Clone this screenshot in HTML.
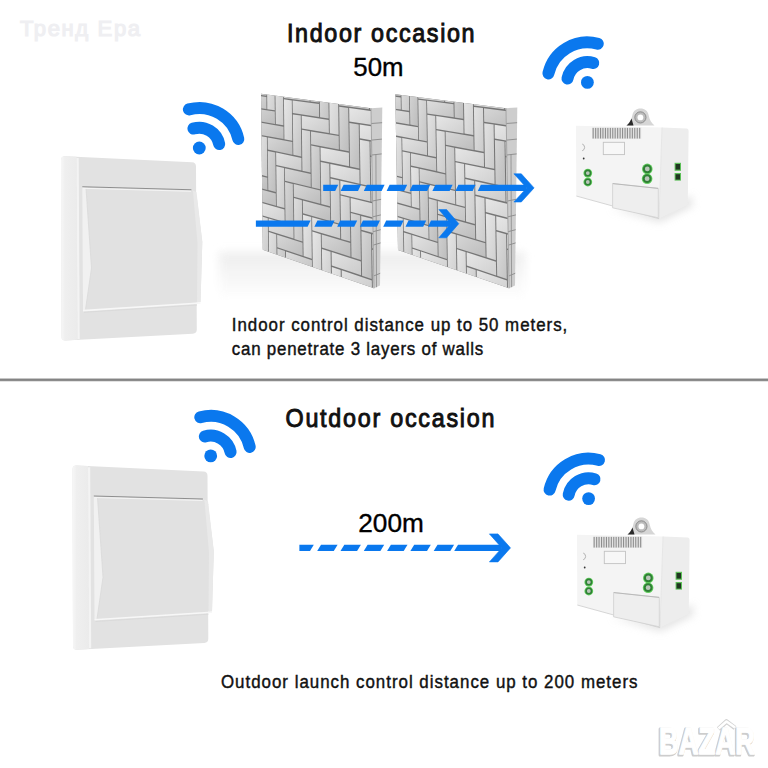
<!DOCTYPE html>
<html><head><meta charset="utf-8"><style>html,body{margin:0;padding:0;background:#fff;width:768px;height:768px;overflow:hidden}svg{display:block}</style></head>
<body><svg width="768" height="768" viewBox="0 0 768 768">
<rect width="768" height="768" fill="#ffffff"/>
<defs><filter id="blur4" x="-50%" y="-50%" width="200%" height="200%"><feGaussianBlur stdDeviation="4"/></filter><filter id="blur8" x="-50%" y="-50%" width="200%" height="200%"><feGaussianBlur stdDeviation="8"/></filter><linearGradient id="bA" x1="0" y1="0" x2="1" y2="1"><stop offset="0" stop-color="#e2e2e2"/><stop offset="1" stop-color="#cbcbcb"/></linearGradient><linearGradient id="bB" x1="0" y1="0" x2="1" y2="1"><stop offset="0" stop-color="#dddddd"/><stop offset="1" stop-color="#c4c4c4"/></linearGradient><linearGradient id="bC" x1="0" y1="0" x2="1" y2="1"><stop offset="0" stop-color="#e6e6e6"/><stop offset="1" stop-color="#d0d0d0"/></linearGradient><linearGradient id="bD" x1="0" y1="0" x2="1" y2="1"><stop offset="0" stop-color="#d6d6d6"/><stop offset="1" stop-color="#bdbdbd"/></linearGradient><linearGradient id="swside" x1="0" y1="0" x2="1" y2="0"><stop offset="0" stop-color="#f7f7f7"/><stop offset="0.25" stop-color="#efefef"/><stop offset="1" stop-color="#ebebeb"/></linearGradient><linearGradient id="floor" x1="0" y1="0" x2="0" y2="1"><stop offset="0" stop-color="#ececec"/><stop offset="1" stop-color="#ffffff"/></linearGradient></defs>
<polygon points="219,252 525,252 525,300 219,300" fill="url(#floor)" filter="url(#blur4)" opacity="0.9"/>
<text transform="translate(20,36.4) scale(1.0,1)" x="0" y="0" font-family='"Liberation Sans", sans-serif' font-size="22" fill="#efeff2" stroke="#efeff2" stroke-width="1.2" textLength="120" lengthAdjust="spacing">Тренд Ера</text>
<text transform="translate(287,42) scale(0.88,1)" x="0" y="0" font-family='"Liberation Sans", sans-serif' font-size="26.5" fill="#111" stroke="#111" stroke-width="1.0" textLength="213.1" lengthAdjust="spacing">Indoor occasion</text>
<text x="353.3" y="76" font-family='"Liberation Sans", sans-serif' font-size="25.8" fill="#000" stroke="#000" stroke-width="0.35">50m</text>
<text transform="translate(231.8,331.3) scale(0.88,1)" x="0" y="0" font-family='"Liberation Sans", sans-serif' font-size="19.2" fill="#111" stroke="#111" stroke-width="0.45" textLength="381.2" lengthAdjust="spacing">Indoor control distance up to 50 meters,</text>
<text transform="translate(231.8,355.4) scale(0.88,1)" x="0" y="0" font-family='"Liberation Sans", sans-serif' font-size="19.2" fill="#111" stroke="#111" stroke-width="0.45" textLength="285.8" lengthAdjust="spacing">can penetrate 3 layers of walls</text>
<rect x="0" y="378.2" width="768" height="3.4" fill="#cfcfcf"/><rect x="0" y="378.8" width="768" height="2.1" fill="#848484"/>
<text transform="translate(285.5,427) scale(0.88,1)" x="0" y="0" font-family='"Liberation Sans", sans-serif' font-size="26.5" fill="#111" stroke="#111" stroke-width="1.0" textLength="237.5" lengthAdjust="spacing">Outdoor occasion</text>
<text x="358.3" y="531.5" font-family='"Liberation Sans", sans-serif' font-size="26.2" fill="#000" stroke="#000" stroke-width="0.35">200m</text>
<text transform="translate(221,687.6) scale(0.88,1)" x="0" y="0" font-family='"Liberation Sans", sans-serif' font-size="19.2" fill="#111" stroke="#111" stroke-width="0.45" textLength="473.3" lengthAdjust="spacing">Outdoor launch control distance up to 200 meters</text>
<clipPath id="w1"><polygon points="261,93.8 371,108.2 374,288.3 262.8,249.8"/></clipPath>
<polygon points="261,93.8 371,108.2 374,288.3 262.8,249.8" fill="#767676"/>
<g clip-path="url(#w1)">
<polygon points="258.6,56.3 265.9,56.8 266.4,95.7 259.1,94.7" fill="url(#bB)"/>
<polygon points="243.4,93.9 266.4,97 266.5,109.1 243.5,105.6" fill="url(#bB)"/>
<polygon points="266.9,70.3 274.3,71 274.8,110.3 267.3,109.2" fill="url(#bC)"/>
<polygon points="251.3,108 274.8,111.6 275,123.9 251.4,119.9" fill="url(#bD)"/>
<polygon points="275.3,84.6 282.9,85.5 283.4,125.3 275.8,124" fill="url(#bA)"/>
<polygon points="259.5,135.9 266.9,137.2 267.3,176.4 260,174.6" fill="url(#bA)"/>
<polygon points="259.4,122.6 283.5,126.7 283.6,139.1 259.5,134.6" fill="url(#bD)"/>
<polygon points="283.9,99.3 291.8,100.4 292.3,140.7 284.4,139.2" fill="url(#bC)"/>
<polygon points="283.8,85.6 309.5,88.6 309.7,101.4 283.9,98" fill="url(#bB)"/>
<polygon points="310,60.3 318.3,61 318.9,102.6 310.5,101.5" fill="url(#bB)"/>
<polygon points="244.3,172 267.3,177.7 267.5,189.9 244.4,183.8" fill="url(#bD)"/>
<polygon points="267.8,150.9 275.3,152.4 275.8,192.1 268.3,190.1" fill="url(#bD)"/>
<polygon points="267.7,137.4 292.3,142.1 292.5,154.7 267.8,149.6" fill="url(#bD)"/>
<polygon points="292.8,114.4 300.8,115.6 301.3,156.5 293.3,154.8" fill="url(#bB)"/>
<polygon points="292.6,100.5 319,104 319.1,117 292.8,113" fill="url(#bB)"/>
<polygon points="319.5,75.4 328,76.2 328.7,118.5 320.1,117.2" fill="url(#bB)"/>
<polygon points="252.2,187.2 275.8,193.4 276,205.7 252.3,199.1" fill="url(#bD)"/>
<polygon points="276.3,166.2 284,168 284.5,208.1 276.8,206" fill="url(#bA)"/>
<polygon points="276.1,152.6 301.4,157.9 301.5,170.6 276.3,164.9" fill="url(#bA)"/>
<polygon points="301.9,129.8 310.1,131.2 310.6,172.6 302.4,170.8" fill="url(#bB)"/>
<polygon points="301.7,115.7 328.7,119.9 328.9,133 301.8,128.5" fill="url(#bA)"/>
<polygon points="329.2,90.9 338,91.9 338.6,134.7 329.8,133.2" fill="url(#bC)"/>
<polygon points="260.5,216.1 267.8,218.3 268.3,257.7 260.9,255.1" fill="url(#bA)"/>
<polygon points="260.3,202.6 284.5,209.5 284.7,222 260.4,214.8" fill="url(#bC)"/>
<polygon points="285,182 292.8,183.9 293.4,224.6 285.5,222.2" fill="url(#bD)"/>
<polygon points="284.8,168.2 310.7,174 310.8,187 285,180.7" fill="url(#bD)"/>
<polygon points="311.2,145.6 319.6,147.2 320.2,189.2 311.7,187.2" fill="url(#bD)"/>
<polygon points="311,131.4 338.7,136.1 338.9,149.5 311.1,144.3" fill="url(#bD)"/>
<polygon points="339.2,106.7 348.2,108 348.9,151.3 339.8,149.6" fill="url(#bD)"/>
<polygon points="338.9,92 368.7,95.4 368.9,109.3 339.1,105.3" fill="url(#bB)"/>
<polygon points="369.2,65 378.9,65.8 379.7,110.7 370,109.4" fill="url(#bC)"/>
<polygon points="268.8,232.1 276.3,234.5 276.8,274.4 269.2,271.6" fill="url(#bA)"/>
<polygon points="268.6,218.5 293.4,225.9 293.6,238.6 268.8,230.8" fill="url(#bA)"/>
<polygon points="293.9,198.1 301.9,200.3 302.5,241.5 294.4,238.9" fill="url(#bB)"/>
<polygon points="293.7,184.1 320.2,190.6 320.4,203.7 293.9,196.8" fill="url(#bD)"/>
<polygon points="320.7,161.9 329.3,163.7 330,206.2 321.3,204" fill="url(#bB)"/>
<polygon points="320.5,147.4 348.9,152.8 349.1,166.3 320.7,160.5" fill="url(#bC)"/>
<polygon points="349.4,123 358.7,124.4 359.4,168.5 350.1,166.5" fill="url(#bD)"/>
<polygon points="349.2,108.1 379.7,112.2 380,126.2 349.4,121.6" fill="url(#bC)"/>
<polygon points="277.3,248.5 285,251.1 285.5,291.6 277.8,288.5" fill="url(#bD)"/>
<polygon points="277.1,234.7 302.5,242.8 302.7,255.7 277.3,247.2" fill="url(#bD)"/>
<polygon points="303,214.7 311.3,217 311.8,258.8 303.6,256" fill="url(#bC)"/>
<polygon points="302.8,200.5 330,207.7 330.2,220.9 303,213.3" fill="url(#bD)"/>
<polygon points="330.5,178.5 339.3,180.5 340,223.7 331.1,221.2" fill="url(#bB)"/>
<polygon points="330.3,163.9 359.4,169.9 359.6,183.7 330.5,177.1" fill="url(#bC)"/>
<polygon points="359.9,139.8 369.5,141.4 370.2,186 360.6,183.9" fill="url(#bA)"/>
<polygon points="359.7,124.6 391.1,129.4 391.3,143.6 359.9,138.3" fill="url(#bC)"/>
<polygon points="285.9,251.4 311.9,260.2 312,273.2 286,264" fill="url(#bB)"/>
<polygon points="312.3,231.6 320.8,234.2 321.4,276.5 312.9,273.5" fill="url(#bC)"/>
<polygon points="312.1,217.3 340,225.1 340.2,238.6 312.3,230.3" fill="url(#bA)"/>
<polygon points="340.5,195.6 349.6,197.8 350.3,241.6 341.2,238.9" fill="url(#bB)"/>
<polygon points="340.3,180.7 370.2,187.5 370.5,201.5 340.5,194.2" fill="url(#bC)"/>
<polygon points="370.7,156.9 380.5,158.8 381.3,204.1 371.5,201.7" fill="url(#bC)"/>
<polygon points="370.5,141.6 402.7,147.1 403,161.5 370.7,155.5" fill="url(#bA)"/>
<polygon points="321.9,249 330.6,251.8 331.3,294.7 322.5,291.5" fill="url(#bA)"/>
<polygon points="321.7,234.5 350.3,243.1 350.5,256.7 321.9,247.6" fill="url(#bD)"/>
<polygon points="350.8,213.1 360.2,215.6 360.9,260 351.5,257" fill="url(#bD)"/>
<polygon points="350.6,198.1 381.3,205.6 381.6,219.7 350.8,211.7" fill="url(#bA)"/>
<polygon points="331.8,266.9 340.7,269.9 341.3,313.4 332.4,309.9" fill="url(#bC)"/>
<polygon points="331.6,252.1 360.9,261.5 361.1,275.3 331.8,265.5" fill="url(#bA)"/>
<polygon points="361.4,231.2 371,233.9 371.7,278.9 362.1,275.7" fill="url(#bD)"/>
<polygon points="361.2,215.9 392.7,224.2 393,238.5 361.4,229.7" fill="url(#bB)"/>
<polygon points="341.7,270.2 371.8,280.4 372,294.4 341.9,283.8" fill="url(#bA)"/>
<polygon points="372.3,249.7 382.1,252.6 382.9,298.3 373,294.8" fill="url(#bC)"/>
<polygon points="372,234.2 404.5,243.3 404.7,257.9 372.3,248.2" fill="url(#bD)"/>
</g>
<polygon points="371,108.2 382.3,107.6 380,285.6 374,288.3" fill="#cdcdcd"/>
<line x1="371.3" y1="123.5" x2="382.1" y2="122.7" stroke="#8a8a8a" stroke-width="0.9"/>
<line x1="371.5" y1="140.1" x2="381.9" y2="139.1" stroke="#8a8a8a" stroke-width="0.9"/>
<line x1="371.8" y1="155" x2="381.7" y2="153.9" stroke="#8a8a8a" stroke-width="0.9"/>
<line x1="372.5" y1="201" x2="381.1" y2="199.3" stroke="#8a8a8a" stroke-width="0.9"/>
<line x1="372.8" y1="216.8" x2="380.9" y2="214.9" stroke="#8a8a8a" stroke-width="0.9"/>
<line x1="373.1" y1="231.7" x2="380.7" y2="229.7" stroke="#8a8a8a" stroke-width="0.9"/>
<line x1="373.3" y1="245.1" x2="380.6" y2="242.9" stroke="#8a8a8a" stroke-width="0.9"/>
<line x1="373.8" y1="275.9" x2="380.2" y2="273.3" stroke="#8a8a8a" stroke-width="0.9"/>
<line x1="371" y1="108.2" x2="374" y2="288.3" stroke="#9a9a9a" stroke-width="0.8"/>
<line x1="375.9" y1="154.5" x2="376.5" y2="287.2" stroke="#8a8a8a" stroke-width="0.8"/>
<clipPath id="w2"><polygon points="395.3,94.3 506,108.2 509.1,288.3 398,250"/></clipPath>
<polygon points="395.3,94.3 506,108.2 509.1,288.3 398,250" fill="#767676"/>
<g clip-path="url(#w2)">
<polygon points="392.7,56.5 400,57 400.7,96.1 393.4,95.2" fill="url(#bD)"/>
<polygon points="377.7,94.5 400.7,97.5 400.9,109.6 377.9,106.3" fill="url(#bA)"/>
<polygon points="401,70.6 408.5,71.3 409.2,110.8 401.7,109.7" fill="url(#bA)"/>
<polygon points="385.7,108.7 409.2,112.2 409.5,124.5 385.9,120.6" fill="url(#bA)"/>
<polygon points="409.6,85 417.3,85.8 417.9,125.9 410.3,124.6" fill="url(#bD)"/>
<polygon points="394.1,136.5 401.4,137.9 402.1,177 394.8,175.2" fill="url(#bC)"/>
<polygon points="393.9,123.2 418,127.2 418.2,139.7 394.1,135.2" fill="url(#bC)"/>
<polygon points="418.3,99.7 426.2,100.7 426.9,141.3 419,139.8" fill="url(#bB)"/>
<polygon points="418.1,85.9 443.9,88.8 444.2,101.7 418.3,98.4" fill="url(#bA)"/>
<polygon points="444.3,60.2 452.8,60.8 453.5,102.9 445.1,101.8" fill="url(#bC)"/>
<polygon points="379.1,172.7 402.1,178.3 402.3,190.5 379.3,184.5" fill="url(#bA)"/>
<polygon points="402.4,151.5 410,153 410.6,192.6 403.1,190.7" fill="url(#bA)"/>
<polygon points="402.2,138 426.9,142.6 427.1,155.2 402.4,150.2" fill="url(#bA)"/>
<polygon points="427.3,114.8 435.3,116 436,157 428,155.4" fill="url(#bA)"/>
<polygon points="427,100.8 453.5,104.3 453.8,117.3 427.3,113.5" fill="url(#bB)"/>
<polygon points="453.9,75.4 462.6,76.2 463.3,118.7 454.7,117.5" fill="url(#bD)"/>
<polygon points="387.1,187.8 410.7,193.9 410.9,206.2 387.3,199.7" fill="url(#bC)"/>
<polygon points="411,166.9 418.7,168.6 419.4,208.6 411.7,206.5" fill="url(#bC)"/>
<polygon points="410.8,153.2 436.1,158.4 436.3,171.1 411,165.5" fill="url(#bB)"/>
<polygon points="436.4,130.3 444.7,131.7 445.4,173.2 437.2,171.3" fill="url(#bA)"/>
<polygon points="436.2,116.1 463.4,120.2 463.6,133.4 436.4,128.9" fill="url(#bC)"/>
<polygon points="463.8,91 472.7,91.9 473.4,135 464.5,133.6" fill="url(#bC)"/>
<polygon points="395.5,216.5 402.8,218.7 403.5,257.8 396.1,255.2" fill="url(#bC)"/>
<polygon points="395.2,203.2 419.4,209.9 419.6,222.4 395.5,215.2" fill="url(#bB)"/>
<polygon points="419.8,182.6 427.6,184.5 428.3,225 420.5,222.6" fill="url(#bD)"/>
<polygon points="419.5,168.8 445.4,174.5 445.7,187.5 419.7,181.2" fill="url(#bD)"/>
<polygon points="445.8,146.1 454.3,147.7 455,189.7 446.5,187.7" fill="url(#bD)"/>
<polygon points="445.6,131.8 473.4,136.5 473.7,149.9 445.8,144.7" fill="url(#bD)"/>
<polygon points="473.9,106.9 483,108.1 483.7,151.7 474.6,150" fill="url(#bA)"/>
<polygon points="473.6,92 503.7,95.3 503.9,109.3 473.9,105.5" fill="url(#bC)"/>
<polygon points="504.2,64.6 514,65.3 514.8,110.7 504.9,109.4" fill="url(#bD)"/>
<polygon points="403.9,232.4 411.4,234.8 412.1,274.4 404.5,271.6" fill="url(#bB)"/>
<polygon points="403.6,218.9 428.4,226.3 428.6,238.9 403.8,231.1" fill="url(#bC)"/>
<polygon points="428.7,198.6 436.8,200.8 437.5,241.7 429.4,239.2" fill="url(#bD)"/>
<polygon points="428.5,184.7 455,191.1 455.3,204.2 428.7,197.3" fill="url(#bC)"/>
<polygon points="455.5,162.3 464.1,164.1 464.9,206.7 456.2,204.4" fill="url(#bC)"/>
<polygon points="455.2,147.9 483.8,153.2 484,166.7 455.4,160.9" fill="url(#bC)"/>
<polygon points="484.2,123.2 493.6,124.6 494.3,168.8 485,166.9" fill="url(#bA)"/>
<polygon points="484,108.2 514.8,112.2 515.1,126.3 484.2,121.8" fill="url(#bD)"/>
<polygon points="412.4,248.7 420.1,251.3 420.8,291.3 413.1,288.3" fill="url(#bC)"/>
<polygon points="412.2,235.1 437.5,243.1 437.7,255.9 412.4,247.4" fill="url(#bA)"/>
<polygon points="437.9,215.1 446.2,217.4 446.9,258.9 438.6,256.2" fill="url(#bD)"/>
<polygon points="437.7,201 464.9,208.1 465.1,221.3 437.9,213.7" fill="url(#bB)"/>
<polygon points="465.3,179 474.2,181 474.9,224.1 466,221.6" fill="url(#bA)"/>
<polygon points="465.1,164.3 494.4,170.3 494.6,184.1 465.3,177.6" fill="url(#bC)"/>
<polygon points="494.9,140 504.5,141.6 505.2,186.4 495.6,184.3" fill="url(#bD)"/>
<polygon points="494.6,124.8 526.3,129.5 526.5,143.8 494.8,138.6" fill="url(#bC)"/>
<polygon points="421,251.6 446.9,260.3 447.1,273.2 421.2,264.1" fill="url(#bC)"/>
<polygon points="447.3,232 455.8,234.5 456.5,276.5 448,273.5" fill="url(#bC)"/>
<polygon points="447.1,217.7 475,225.5 475.2,238.9 447.3,230.6" fill="url(#bD)"/>
<polygon points="475.4,196 484.5,198.3 485.3,241.9 476.2,239.2" fill="url(#bA)"/>
<polygon points="475.2,181.2 505.3,187.9 505.5,201.8 475.4,194.6" fill="url(#bA)"/>
<polygon points="505.8,157.2 515.6,159.1 516.4,204.5 506.5,202.1" fill="url(#bA)"/>
<polygon points="505.5,141.8 538,147.2 538.3,161.7 505.7,155.8" fill="url(#bC)"/>
<polygon points="457,249.3 465.6,252 466.4,294.6 457.7,291.3" fill="url(#bC)"/>
<polygon points="456.7,234.8 485.3,243.3 485.6,256.9 456.9,247.9" fill="url(#bD)"/>
<polygon points="485.8,213.5 495.2,216 495.9,260.2 486.6,257.2" fill="url(#bC)"/>
<polygon points="485.5,198.5 516.4,206 516.7,220.1 485.8,212.1" fill="url(#bC)"/>
<polygon points="466.8,267 475.7,270 476.5,313.1 467.6,309.6" fill="url(#bB)"/>
<polygon points="466.6,252.3 495.9,261.7 496.2,275.4 466.8,265.6" fill="url(#bC)"/>
<polygon points="496.4,231.5 506.1,234.2 506.8,279 497.2,275.7" fill="url(#bB)"/>
<polygon points="496.2,216.2 527.9,224.5 528.2,238.8 496.4,230" fill="url(#bC)"/>
<polygon points="476.7,270.3 506.9,280.5 507.1,294.4 476.9,283.7" fill="url(#bC)"/>
<polygon points="507.4,249.9 517.2,252.9 518,298.2 508.1,294.8" fill="url(#bC)"/>
<polygon points="507.1,234.5 539.7,243.6 539.9,258.1 507.3,248.4" fill="url(#bC)"/>
</g>
<polygon points="506,108.2 517.3,107.6 515,285.6 509.1,288.3" fill="#cdcdcd"/>
<line x1="506.3" y1="123.5" x2="517.1" y2="122.7" stroke="#8a8a8a" stroke-width="0.9"/>
<line x1="506.5" y1="140.1" x2="516.9" y2="139.1" stroke="#8a8a8a" stroke-width="0.9"/>
<line x1="506.8" y1="155" x2="516.7" y2="153.9" stroke="#8a8a8a" stroke-width="0.9"/>
<line x1="507.6" y1="201" x2="516.1" y2="199.3" stroke="#8a8a8a" stroke-width="0.9"/>
<line x1="507.9" y1="216.8" x2="515.9" y2="214.9" stroke="#8a8a8a" stroke-width="0.9"/>
<line x1="508.1" y1="231.7" x2="515.7" y2="229.7" stroke="#8a8a8a" stroke-width="0.9"/>
<line x1="508.4" y1="245.1" x2="515.6" y2="242.9" stroke="#8a8a8a" stroke-width="0.9"/>
<line x1="508.9" y1="275.9" x2="515.2" y2="273.3" stroke="#8a8a8a" stroke-width="0.9"/>
<line x1="506" y1="108.2" x2="509.1" y2="288.3" stroke="#9a9a9a" stroke-width="0.8"/>
<line x1="511" y1="154.5" x2="511.6" y2="287.2" stroke="#8a8a8a" stroke-width="0.8"/>
<path d="M65,156.2 L192,162.3 Q196,162.5 196,166.5 L196.8,329.5 Q196.8,333.5 192.8,333.7 L65.5,340.5 Q61.5,340.7 61.5,336.7 L61,160.2 Q61,156 65,156.2 Z" fill="#e2e2e2"/>
<path d="M65,156.2 L76.5,156.8 L77.5,339.8 L65.5,340.5 Q61.5,340.7 61.5,336.7 L61,160.2 Q61,156 65,156.2 Z" fill="url(#swside)"/>
<line x1="77.6" y1="158" x2="78.6" y2="339" stroke="#f3f3f3" stroke-width="2.2"/>
<polygon points="82.3,187 191.4,190 196.5,195 202.3,242 200.5,302 83,310" fill="#e1e1e1"/>
<polygon points="191.4,190 196.5,192 202.3,242 200.5,302 197,302.5 197.5,243 193,191.5" fill="#e9e9e9"/>
<polygon points="82.3,187 86,188 91.5,268 85.5,309.8 83,310" fill="#f1f1f1"/>
<polyline points="86,188.2 91.5,268 85.5,309.6" fill="none" stroke="#d9d9d9" stroke-width="0.8"/>
<line x1="82.3" y1="186.8" x2="191.4" y2="189.8" stroke="#8e8e8e" stroke-width="1.1"/>
<line x1="83" y1="188.3" x2="191" y2="191.3" stroke="#f5f5f5" stroke-width="1"/>
<line x1="83" y1="310.6" x2="200.5" y2="303" stroke="#f7f7f7" stroke-width="1.6"/>
<line x1="84" y1="312.3" x2="197" y2="305" stroke="#d8d8d8" stroke-width="0.8"/>
<g transform="translate(11.5,309.2)"><path d="M65,156.2 L192,162.3 Q196,162.5 196,166.5 L196.8,329.5 Q196.8,333.5 192.8,333.7 L65.5,340.5 Q61.5,340.7 61.5,336.7 L61,160.2 Q61,156 65,156.2 Z" fill="#e2e2e2"/>
<path d="M65,156.2 L76.5,156.8 L77.5,339.8 L65.5,340.5 Q61.5,340.7 61.5,336.7 L61,160.2 Q61,156 65,156.2 Z" fill="url(#swside)"/>
<line x1="77.6" y1="158" x2="78.6" y2="339" stroke="#f3f3f3" stroke-width="2.2"/>
<polygon points="82.3,187 191.4,190 196.5,195 202.3,242 200.5,302 83,310" fill="#e1e1e1"/>
<polygon points="191.4,190 196.5,192 202.3,242 200.5,302 197,302.5 197.5,243 193,191.5" fill="#e9e9e9"/>
<polygon points="82.3,187 86,188 91.5,268 85.5,309.8 83,310" fill="#f1f1f1"/>
<polyline points="86,188.2 91.5,268 85.5,309.6" fill="none" stroke="#d9d9d9" stroke-width="0.8"/>
<line x1="82.3" y1="186.8" x2="191.4" y2="189.8" stroke="#8e8e8e" stroke-width="1.1"/>
<line x1="83" y1="188.3" x2="191" y2="191.3" stroke="#f5f5f5" stroke-width="1"/>
<line x1="83" y1="310.6" x2="200.5" y2="303" stroke="#f7f7f7" stroke-width="1.6"/>
<line x1="84" y1="312.3" x2="197" y2="305" stroke="#d8d8d8" stroke-width="0.8"/></g>
<path d="M188.9 109.4A40 40 0 0 1 238.3 139" fill="none" stroke="#0a78ee" stroke-width="12" stroke-linecap="round"/>
<path d="M193.4 128.6A20.3 20.3 0 0 1 219.2 144.1" fill="none" stroke="#0a78ee" stroke-width="12" stroke-linecap="round"/>
<circle cx="199.3" cy="148" r="6.4" fill="#0a78ee"/>
<path d="M200.3 417.3A40 40 0 0 1 249.7 446.9" fill="none" stroke="#0a78ee" stroke-width="12" stroke-linecap="round"/>
<path d="M204.8 436.5A20.3 20.3 0 0 1 230.6 452" fill="none" stroke="#0a78ee" stroke-width="12" stroke-linecap="round"/>
<circle cx="210.7" cy="455.9" r="6.4" fill="#0a78ee"/>
<path d="M548.4 73.4A40 40 0 0 1 597.8 43.8" fill="none" stroke="#0a78ee" stroke-width="12" stroke-linecap="round"/>
<path d="M567.5 78.5A20.3 20.3 0 0 1 593.3 63" fill="none" stroke="#0a78ee" stroke-width="12" stroke-linecap="round"/>
<circle cx="587.4" cy="82.4" r="6.4" fill="#0a78ee"/>
<path d="M549.6 489.6A40 40 0 0 1 599 460" fill="none" stroke="#0a78ee" stroke-width="12" stroke-linecap="round"/>
<path d="M568.7 494.7A20.3 20.3 0 0 1 594.5 479.2" fill="none" stroke="#0a78ee" stroke-width="12" stroke-linecap="round"/>
<circle cx="588.6" cy="498.6" r="6.4" fill="#0a78ee"/>
<polygon points="610,208 660,222 692,206 692,196 650,210" fill="#d6d6d6" filter="url(#blur4)" opacity="0.7"/>
<path d="M626.5,125.5 C629.5,123 631.5,120 632.3,115.5 C633.3,110.5 636.3,108.5 640.5,108.5 C644.7,108.5 647.7,110.5 648.7,115.5 C649.5,120 651.5,123 654.5,125.5 Z" fill="#d6d6d6"/>
<path d="M626.5,125.5 C629,123.5 630.5,121 631.5,118.5 L633.5,125.5 Z" fill="#2a2a2a"/>
<circle cx="640.4" cy="117.4" r="5.6" fill="#bcbcbc" stroke="#858585" stroke-width="0.9"/>
<circle cx="640.4" cy="117.4" r="2.9" fill="#ffffff"/>
<path d="M662,127.5 L686.5,128.5 C688,128.7 688.6,129.5 688.6,131 L687.8,203.5 C687.8,204.5 687.3,205 686.6,205.4 L659,218.5 Z" fill="#ededed"/>
<polygon points="576,125.8 662,127.5 659,218.5 576.3,195.8" fill="#f4f4f4"/>
<line x1="662" y1="127.5" x2="659" y2="218.5" stroke="#e2e2e2" stroke-width="0.8"/>
<line x1="576.3" y1="196" x2="659" y2="218.7" stroke="#d0d0d0" stroke-width="0.9"/>
<rect x="592.2" y="127.6" width="49" height="11.2" fill="#e4e4e4"/>
<rect x="592.6" y="127.9" width="1.1" height="10.6" fill="#8e8e8e"/>
<rect x="595.1" y="127.9" width="1.1" height="10.6" fill="#8e8e8e"/>
<rect x="597.5" y="127.9" width="1.1" height="10.6" fill="#8e8e8e"/>
<rect x="600" y="127.9" width="1.1" height="10.6" fill="#8e8e8e"/>
<rect x="602.4" y="127.9" width="1.1" height="10.6" fill="#8e8e8e"/>
<rect x="604.9" y="127.9" width="1.1" height="10.6" fill="#8e8e8e"/>
<rect x="607.3" y="127.9" width="1.1" height="10.6" fill="#8e8e8e"/>
<rect x="609.8" y="127.9" width="1.1" height="10.6" fill="#8e8e8e"/>
<rect x="612.2" y="127.9" width="1.1" height="10.6" fill="#8e8e8e"/>
<rect x="614.6" y="127.9" width="1.1" height="10.6" fill="#8e8e8e"/>
<rect x="617.1" y="127.9" width="1.1" height="10.6" fill="#8e8e8e"/>
<rect x="619.6" y="127.9" width="1.1" height="10.6" fill="#8e8e8e"/>
<rect x="622" y="127.9" width="1.1" height="10.6" fill="#8e8e8e"/>
<rect x="624.5" y="127.9" width="1.1" height="10.6" fill="#8e8e8e"/>
<rect x="626.9" y="127.9" width="1.1" height="10.6" fill="#8e8e8e"/>
<rect x="629.4" y="127.9" width="1.1" height="10.6" fill="#8e8e8e"/>
<rect x="631.8" y="127.9" width="1.1" height="10.6" fill="#8e8e8e"/>
<rect x="634.2" y="127.9" width="1.1" height="10.6" fill="#8e8e8e"/>
<rect x="636.7" y="127.9" width="1.1" height="10.6" fill="#8e8e8e"/>
<rect x="639.1" y="127.9" width="1.1" height="10.6" fill="#8e8e8e"/>
<rect x="603.3" y="142.3" width="21.2" height="12.3" fill="#f7f7f7" stroke="#c2c2c2" stroke-width="0.9"/>
<path d="M582.2,144 A3.6,3.6 0 0 1 582.2,150.8" fill="none" stroke="#aaaaaa" stroke-width="0.9"/>
<circle cx="583.7" cy="158.5" r="0.9" fill="#333"/>
<circle cx="587.8" cy="173.1" r="4.4" fill="#62cf5e"/><circle cx="587.8" cy="173.1" r="3.5" fill="#2f7f35"/><circle cx="587.8" cy="173.1" r="1.9" fill="#b9c6b9"/>
<circle cx="587.8" cy="182" r="4.4" fill="#62cf5e"/><circle cx="587.8" cy="182" r="3.5" fill="#2f7f35"/><circle cx="587.8" cy="182" r="1.9" fill="#b9c6b9"/>
<circle cx="647.3" cy="168.9" r="5.3" fill="#62cf5e"/><circle cx="647.3" cy="168.9" r="4.4" fill="#2f7f35"/><circle cx="647.3" cy="168.9" r="2.4" fill="#b9c6b9"/>
<circle cx="647.1" cy="178.7" r="5.3" fill="#62cf5e"/><circle cx="647.1" cy="178.7" r="4.4" fill="#2f7f35"/><circle cx="647.1" cy="178.7" r="2.4" fill="#b9c6b9"/>
<polygon points="612.6,183.5 658.3,188.3 658.3,217.8 612.6,207.8" fill="#eeeeee" stroke="#d2d2d2" stroke-width="0.9"/>
<line x1="612.8" y1="183.6" x2="658" y2="188.4" stroke="#b5b5b5" stroke-width="0.9"/>
<rect x="674.6" y="162.8" width="6.4" height="8" fill="#5cbf58"/><rect x="674.6" y="173" width="6.4" height="7.6" fill="#5cbf58"/>
<rect x="675.6" y="164" width="4.4" height="5.6" fill="#1f3520"/><rect x="675.6" y="174.2" width="4.4" height="5.4" fill="#1f3520"/>
<g transform="translate(1,409)"><polygon points="610,208 660,222 692,206 692,196 650,210" fill="#d6d6d6" filter="url(#blur4)" opacity="0.7"/>
<path d="M626.5,125.5 C629.5,123 631.5,120 632.3,115.5 C633.3,110.5 636.3,108.5 640.5,108.5 C644.7,108.5 647.7,110.5 648.7,115.5 C649.5,120 651.5,123 654.5,125.5 Z" fill="#d6d6d6"/>
<path d="M626.5,125.5 C629,123.5 630.5,121 631.5,118.5 L633.5,125.5 Z" fill="#2a2a2a"/>
<circle cx="640.4" cy="117.4" r="5.6" fill="#bcbcbc" stroke="#858585" stroke-width="0.9"/>
<circle cx="640.4" cy="117.4" r="2.9" fill="#ffffff"/>
<path d="M662,127.5 L686.5,128.5 C688,128.7 688.6,129.5 688.6,131 L687.8,203.5 C687.8,204.5 687.3,205 686.6,205.4 L659,218.5 Z" fill="#ededed"/>
<polygon points="576,125.8 662,127.5 659,218.5 576.3,195.8" fill="#f4f4f4"/>
<line x1="662" y1="127.5" x2="659" y2="218.5" stroke="#e2e2e2" stroke-width="0.8"/>
<line x1="576.3" y1="196" x2="659" y2="218.7" stroke="#d0d0d0" stroke-width="0.9"/>
<rect x="592.2" y="127.6" width="49" height="11.2" fill="#e4e4e4"/>
<rect x="592.6" y="127.9" width="1.1" height="10.6" fill="#8e8e8e"/>
<rect x="595.1" y="127.9" width="1.1" height="10.6" fill="#8e8e8e"/>
<rect x="597.5" y="127.9" width="1.1" height="10.6" fill="#8e8e8e"/>
<rect x="600" y="127.9" width="1.1" height="10.6" fill="#8e8e8e"/>
<rect x="602.4" y="127.9" width="1.1" height="10.6" fill="#8e8e8e"/>
<rect x="604.9" y="127.9" width="1.1" height="10.6" fill="#8e8e8e"/>
<rect x="607.3" y="127.9" width="1.1" height="10.6" fill="#8e8e8e"/>
<rect x="609.8" y="127.9" width="1.1" height="10.6" fill="#8e8e8e"/>
<rect x="612.2" y="127.9" width="1.1" height="10.6" fill="#8e8e8e"/>
<rect x="614.6" y="127.9" width="1.1" height="10.6" fill="#8e8e8e"/>
<rect x="617.1" y="127.9" width="1.1" height="10.6" fill="#8e8e8e"/>
<rect x="619.6" y="127.9" width="1.1" height="10.6" fill="#8e8e8e"/>
<rect x="622" y="127.9" width="1.1" height="10.6" fill="#8e8e8e"/>
<rect x="624.5" y="127.9" width="1.1" height="10.6" fill="#8e8e8e"/>
<rect x="626.9" y="127.9" width="1.1" height="10.6" fill="#8e8e8e"/>
<rect x="629.4" y="127.9" width="1.1" height="10.6" fill="#8e8e8e"/>
<rect x="631.8" y="127.9" width="1.1" height="10.6" fill="#8e8e8e"/>
<rect x="634.2" y="127.9" width="1.1" height="10.6" fill="#8e8e8e"/>
<rect x="636.7" y="127.9" width="1.1" height="10.6" fill="#8e8e8e"/>
<rect x="639.1" y="127.9" width="1.1" height="10.6" fill="#8e8e8e"/>
<rect x="603.3" y="142.3" width="21.2" height="12.3" fill="#f7f7f7" stroke="#c2c2c2" stroke-width="0.9"/>
<path d="M582.2,144 A3.6,3.6 0 0 1 582.2,150.8" fill="none" stroke="#aaaaaa" stroke-width="0.9"/>
<circle cx="583.7" cy="158.5" r="0.9" fill="#333"/>
<circle cx="587.8" cy="173.1" r="4.4" fill="#62cf5e"/><circle cx="587.8" cy="173.1" r="3.5" fill="#2f7f35"/><circle cx="587.8" cy="173.1" r="1.9" fill="#b9c6b9"/>
<circle cx="587.8" cy="182" r="4.4" fill="#62cf5e"/><circle cx="587.8" cy="182" r="3.5" fill="#2f7f35"/><circle cx="587.8" cy="182" r="1.9" fill="#b9c6b9"/>
<circle cx="647.3" cy="168.9" r="5.3" fill="#62cf5e"/><circle cx="647.3" cy="168.9" r="4.4" fill="#2f7f35"/><circle cx="647.3" cy="168.9" r="2.4" fill="#b9c6b9"/>
<circle cx="647.1" cy="178.7" r="5.3" fill="#62cf5e"/><circle cx="647.1" cy="178.7" r="4.4" fill="#2f7f35"/><circle cx="647.1" cy="178.7" r="2.4" fill="#b9c6b9"/>
<polygon points="612.6,183.5 658.3,188.3 658.3,217.8 612.6,207.8" fill="#eeeeee" stroke="#d2d2d2" stroke-width="0.9"/>
<line x1="612.8" y1="183.6" x2="658" y2="188.4" stroke="#b5b5b5" stroke-width="0.9"/>
<rect x="674.6" y="162.8" width="6.4" height="8" fill="#5cbf58"/><rect x="674.6" y="173" width="6.4" height="7.6" fill="#5cbf58"/>
<rect x="675.6" y="164" width="4.4" height="5.6" fill="#1f3520"/><rect x="675.6" y="174.2" width="4.4" height="5.4" fill="#1f3520"/></g>
<polygon points="323.2,184.8 338.2,184.8 335.2,191 323.2,191" fill="#0a78ee"/>
<polygon points="343.6,184.8 361,184.8 358,191 340.6,191" fill="#0a78ee"/>
<polygon points="366.8,184.8 384.6,184.8 381.6,191 363.8,191" fill="#0a78ee"/>
<polygon points="389.6,184.8 407.2,184.8 404.2,191 386.6,191" fill="#0a78ee"/>
<polygon points="412.6,184.8 430.2,184.8 427.2,191 409.6,191" fill="#0a78ee"/>
<polygon points="435.4,184.8 452.6,184.8 449.6,191 432.4,191" fill="#0a78ee"/>
<polygon points="458.4,184.8 475.6,184.8 472.6,191 455.4,191" fill="#0a78ee"/>
<polygon points="480.8,184.8 526.7,184.8 526.7,191 477.8,191" fill="#0a78ee"/>
<polygon points="513.9,173.8 521.3,173.8 534.1,187.9 521.3,202 513.9,202 526.7,187.9" fill="#0a78ee" stroke="#0a78ee" stroke-width="0.6" stroke-linejoin="round"/>
<polygon points="255.9,220.6 310.6,220.6 307.6,226.8 255.9,226.8" fill="#0a78ee"/>
<polygon points="317.4,220.6 334.6,220.6 331.6,226.8 314.4,226.8" fill="#0a78ee"/>
<polygon points="340.2,220.6 357.2,220.6 354.2,226.8 337.2,226.8" fill="#0a78ee"/>
<polygon points="362.9,220.6 380,220.6 377,226.8 359.9,226.8" fill="#0a78ee"/>
<polygon points="386.2,220.6 403.6,220.6 400.6,226.8 383.2,226.8" fill="#0a78ee"/>
<polygon points="408.5,220.6 426.2,220.6 423.2,226.8 405.5,226.8" fill="#0a78ee"/>
<polygon points="431,220.6 450.9,220.6 450.9,226.8 428,226.8" fill="#0a78ee"/>
<polygon points="438.8,209.6 446.6,209.6 458.8,223.7 446.6,237.8 438.8,237.8 450.9,223.7" fill="#0a78ee" stroke="#0a78ee" stroke-width="0.6" stroke-linejoin="round"/>
<polygon points="299.4,544.8 313.8,544.8 310,551 299.4,551" fill="#0a78ee"/>
<polygon points="321,544.8 337.6,544.8 333.8,551 317.2,551" fill="#0a78ee"/>
<polygon points="344.3,544.8 360.9,544.8 357.1,551 340.5,551" fill="#0a78ee"/>
<polygon points="367.6,544.8 384.2,544.8 380.4,551 363.8,551" fill="#0a78ee"/>
<polygon points="390.9,544.8 407.5,544.8 403.7,551 387.1,551" fill="#0a78ee"/>
<polygon points="414.2,544.8 430.8,544.8 427,551 410.4,551" fill="#0a78ee"/>
<polygon points="437.5,544.8 454.1,544.8 450.3,551 433.7,551" fill="#0a78ee"/>
<polygon points="458,544.8 501.9,544.8 501.9,551 454.2,551" fill="#0a78ee"/>
<polygon points="489.4,533.9 498,533.9 510.5,547.9 498,561.9 489.4,561.9 501.9,547.9" fill="#0a78ee" stroke="#0a78ee" stroke-width="0.6" stroke-linejoin="round"/>
<filter id="bzb" x="-20%" y="-40%" width="140%" height="180%"><feGaussianBlur stdDeviation="0.7"/></filter>
<g filter="url(#bzb)"><text x="658" y="754.5" font-family='"Liberation Sans", sans-serif' font-weight="bold" font-size="37" fill="#d4d4d4" stroke="#cdcdcd" stroke-width="3.2" stroke-linejoin="round" textLength="96" lengthAdjust="spacingAndGlyphs">BAZAR</text><path d="M718.5,729 L726.5,721.5 L735,728" fill="none" stroke="#d2d2d2" stroke-width="4.6" stroke-linejoin="round"/></g>
<text x="659" y="753.5" font-family='"Liberation Sans", sans-serif' font-weight="bold" font-size="37" fill="#ffffff" stroke="#ffffff" stroke-width="1.4" stroke-linejoin="round" textLength="96" lengthAdjust="spacingAndGlyphs">BAZAR</text>
<path d="M718.5,728.5 L726.5,721.5 L735,727.5" fill="none" stroke="#ffffff" stroke-width="2.6" stroke-linejoin="round"/>
</svg></body></html>
